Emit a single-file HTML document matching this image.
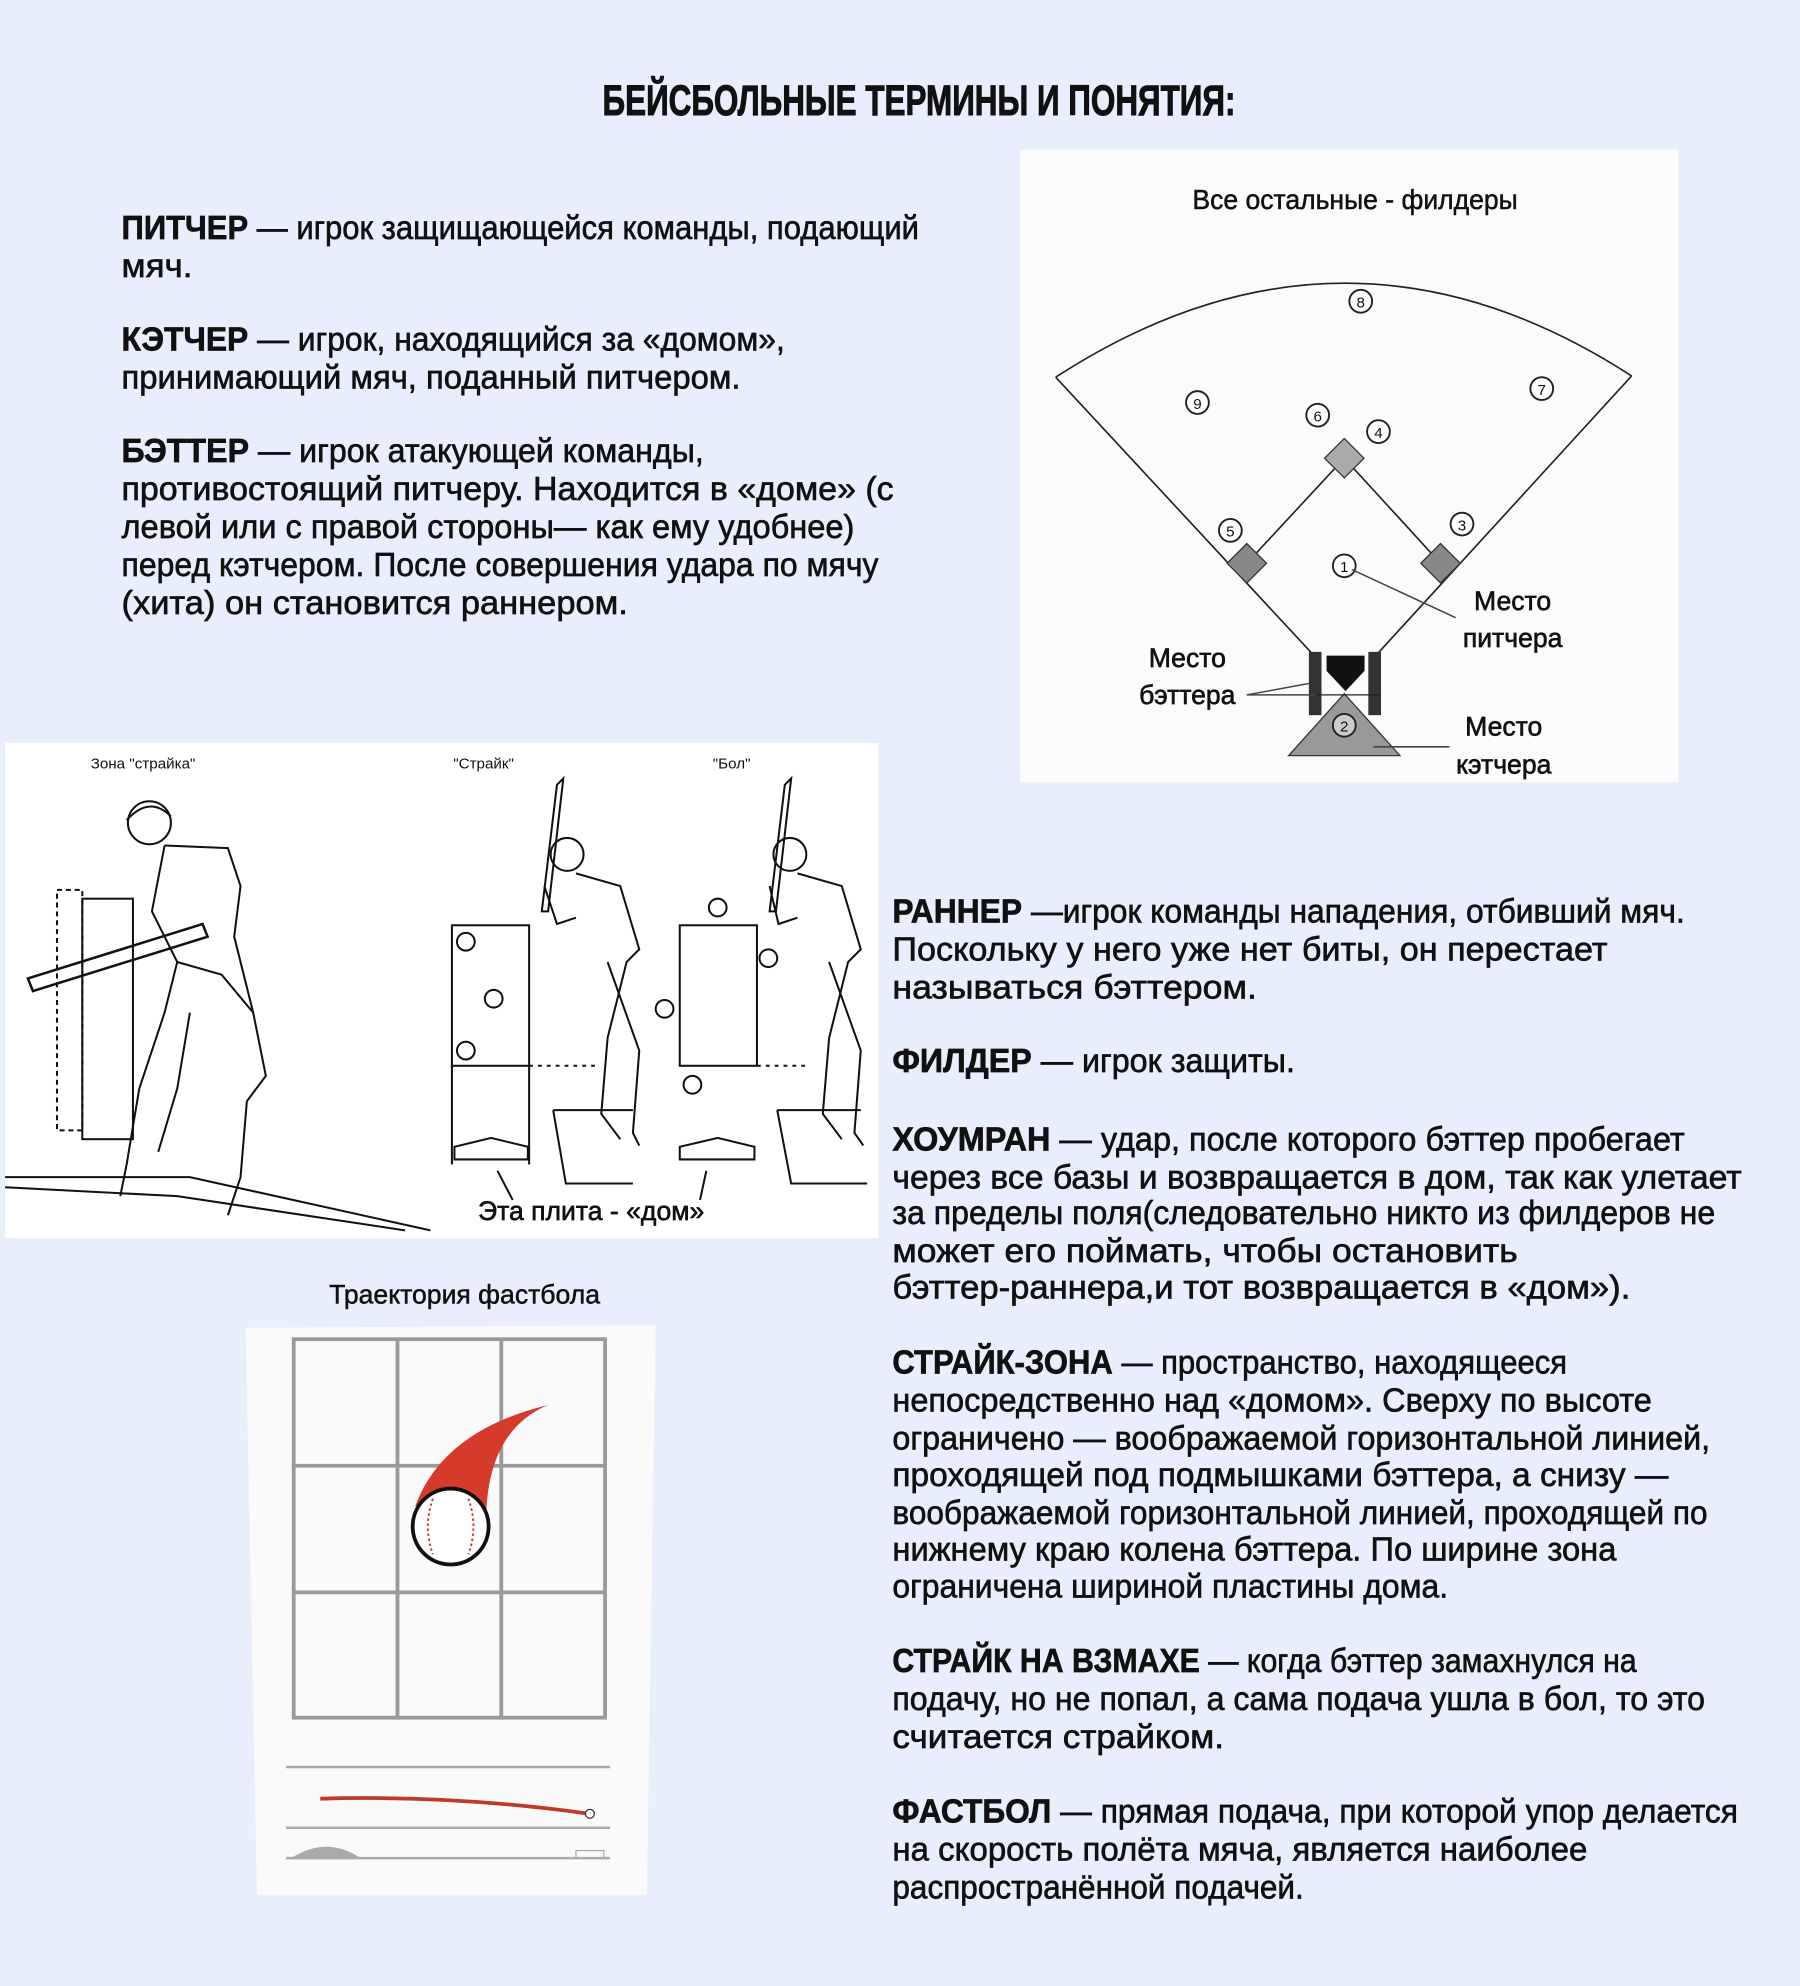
<!DOCTYPE html>
<html><head><meta charset="utf-8"><style>
html,body{margin:0;padding:0;background:#e8eefb;}
svg{display:block}
text{font-family:"Liberation Sans","DejaVu Sans",sans-serif;fill:#111;}
.t text{stroke:#111;stroke-width:0.5;}
.t{font-size:26px;}
.b{font-weight:bold;}
</style></head><body>
<svg width="1800" height="1986" viewBox="0 0 1422 1569" xmlns="http://www.w3.org/2000/svg">
<rect width="1422" height="1569" fill="#e8eefb"/>
<text x="476" y="91" font-size="34" font-weight="bold" textLength="500" lengthAdjust="spacingAndGlyphs" stroke="#111" stroke-width="0.8">БЕЙСБОЛЬНЫЕ ТЕРМИНЫ И ПОНЯТИЯ:</text>

<g class="t">
<text x="96" y="189" textLength="630" lengthAdjust="spacingAndGlyphs"><tspan class="b">ПИТЧЕР</tspan> — игрок защищающейся команды, подающий</text>
<text x="96" y="219" textLength="56" lengthAdjust="spacingAndGlyphs">мяч.</text>
<text x="96" y="277" textLength="524" lengthAdjust="spacingAndGlyphs"><tspan class="b">КЭТЧЕР</tspan> — игрок, находящийся за «домом»,</text>
<text x="96" y="307" textLength="489" lengthAdjust="spacingAndGlyphs">принимающий мяч, поданный питчером.</text>
<text x="96" y="365" textLength="460" lengthAdjust="spacingAndGlyphs"><tspan class="b">БЭТТЕР</tspan> — игрок атакующей команды,</text>
<text x="96" y="395" textLength="610" lengthAdjust="spacingAndGlyphs">противостоящий питчеру. Находится в «доме» (с</text>
<text x="96" y="425" textLength="579" lengthAdjust="spacingAndGlyphs">левой или с правой стороны— как ему удобнее)</text>
<text x="96" y="455" textLength="598" lengthAdjust="spacingAndGlyphs">перед кэтчером. После совершения удара по мячу</text>
<text x="96" y="485" textLength="400" lengthAdjust="spacingAndGlyphs">(хита) он становится раннером.</text>

<text x="705" y="729" textLength="626" lengthAdjust="spacingAndGlyphs"><tspan class="b">РАННЕР</tspan> —игрок команды нападения, отбивший мяч.</text>
<text x="705" y="759" textLength="565" lengthAdjust="spacingAndGlyphs">Поскольку у него уже нет биты, он перестает</text>
<text x="705" y="789" textLength="288" lengthAdjust="spacingAndGlyphs">называться бэттером.</text>
<text x="705" y="847" textLength="318" lengthAdjust="spacingAndGlyphs"><tspan class="b">ФИЛДЕР</tspan> — игрок защиты.</text>
<text x="705" y="909" textLength="626" lengthAdjust="spacingAndGlyphs"><tspan class="b">ХОУМРАН</tspan> — удар, после которого бэттер пробегает</text>
<text x="705" y="939" textLength="671" lengthAdjust="spacingAndGlyphs">через все базы и возвращается в дом, так как улетает</text>
<text x="705" y="967" textLength="650" lengthAdjust="spacingAndGlyphs">за пределы поля(следовательно никто из филдеров не</text>
<text x="705" y="997" textLength="494" lengthAdjust="spacingAndGlyphs">может его поймать, чтобы остановить</text>
<text x="705" y="1026" textLength="583" lengthAdjust="spacingAndGlyphs">бэттер-раннера,и тот возвращается в «дом»).</text>
<text x="705" y="1085" textLength="533" lengthAdjust="spacingAndGlyphs"><tspan class="b">СТРАЙК-ЗОНА</tspan> — пространство, находящееся</text>
<text x="705" y="1115" textLength="600" lengthAdjust="spacingAndGlyphs">непосредственно над «домом». Сверху по высоте</text>
<text x="705" y="1145" textLength="646" lengthAdjust="spacingAndGlyphs">ограничено — воображаемой горизонтальной линией,</text>
<text x="705" y="1174" textLength="613" lengthAdjust="spacingAndGlyphs">проходящей под подмышками бэттера, а снизу —</text>
<text x="705" y="1204" textLength="644" lengthAdjust="spacingAndGlyphs">воображаемой горизонтальной линией, проходящей по</text>
<text x="705" y="1233" textLength="572" lengthAdjust="spacingAndGlyphs">нижнему краю колена бэттера. По ширине зона</text>
<text x="705" y="1262" textLength="439" lengthAdjust="spacingAndGlyphs">ограничена шириной пластины дома.</text>
<text x="705" y="1321" textLength="588" lengthAdjust="spacingAndGlyphs"><tspan class="b">СТРАЙК НА ВЗМАХЕ</tspan> — когда бэттер замахнулся на</text>
<text x="705" y="1351" textLength="642" lengthAdjust="spacingAndGlyphs">подачу, но не попал, а сама подача ушла в бол, то это</text>
<text x="705" y="1381" textLength="262" lengthAdjust="spacingAndGlyphs">считается страйком.</text>
<text x="705" y="1440" textLength="668" lengthAdjust="spacingAndGlyphs"><tspan class="b">ФАСТБОЛ</tspan> — прямая подача, при которой упор делается</text>
<text x="705" y="1470" textLength="549" lengthAdjust="spacingAndGlyphs">на скорость полёта мяча, является наиболее</text>
<text x="705" y="1500" textLength="325" lengthAdjust="spacingAndGlyphs">распространённой подачей.</text>
</g>

<!-- Field diagram -->
<rect x="806" y="118" width="520" height="500" fill="#fbfbfb"/>
<text x="942" y="165" font-size="22" textLength="257" lengthAdjust="spacingAndGlyphs" stroke="#111" stroke-width="0.4">Все остальные - филдеры</text>
<g fill="none" stroke="#222" stroke-width="1.3">
<path d="M834,298 Q1062,150 1289,297"/>
<line x1="834" y1="298" x2="1040" y2="520"/>
<line x1="1289" y1="297" x2="1085" y2="520"/>
<polyline points="985,445 1062,362 1138,445"/>
</g>
<g fill="#aaa" stroke="#333" stroke-width="1">
<rect x="1051" y="351" width="22" height="22" transform="rotate(45 1062 362)"/>
<rect x="974" y="434" width="22" height="22" transform="rotate(45 985 445)" fill="#888"/>
<rect x="1127" y="434" width="22" height="22" transform="rotate(45 1138 445)" fill="#888"/>
</g>
<rect x="1034" y="515" width="10" height="50" fill="#333"/>
<rect x="1081" y="515" width="10" height="50" fill="#333"/>
<polygon points="1048,518 1078,518 1078,530 1063,546 1048,530" fill="#111"/>
<polygon points="1018,597 1106,597 1062,548" fill="#999" stroke="#333"/>
<line x1="1034" y1="549" x2="1091" y2="549" stroke="#222"/>
<g fill="#fff" stroke="#222" stroke-width="1.5">
<circle cx="1075" cy="238" r="9"/><circle cx="946" cy="318" r="9"/><circle cx="1218" cy="307" r="9"/>
<circle cx="1041" cy="328" r="9"/><circle cx="1089" cy="341" r="9"/><circle cx="972" cy="419" r="9"/>
<circle cx="1155" cy="414" r="9"/><circle cx="1062" cy="447" r="9"/><circle cx="1062" cy="573" r="9" fill="#ccc"/>
</g>
<g font-size="12" text-anchor="middle">
<text x="1075" y="243">8</text><text x="946" y="323">9</text><text x="1218" y="312">7</text>
<text x="1041" y="333">6</text><text x="1089" y="346">4</text><text x="972" y="424">5</text>
<text x="1155" y="419">3</text><text x="1062" y="452">1</text><text x="1062" y="578">2</text>
</g>
<g stroke="#444" stroke-width="1.2" fill="none">
<line x1="1068" y1="450" x2="1150" y2="488"/>
<line x1="985" y1="549" x2="1034" y2="540"/>
<line x1="985" y1="549" x2="1040" y2="549"/>
<line x1="1085" y1="590" x2="1145" y2="590"/>
</g>
<g font-size="21" text-anchor="middle" stroke="#111" stroke-width="0.5">
<text x="1195" y="482">Место</text><text x="1195" y="511">питчера</text>
<text x="938" y="527">Место</text><text x="938" y="556">бэттера</text>
<text x="1188" y="581">Место</text><text x="1188" y="611">кэтчера</text>
</g>

<!-- Photo panel -->
<rect x="4" y="587" width="690" height="391" fill="#fff"/>
<g font-size="12" text-anchor="middle">
<text x="113" y="607">Зона "страйка"</text><text x="382" y="607">"Страйк"</text><text x="578" y="607">"Бол"</text>
</g>
<g fill="none" stroke="#111" stroke-width="1.6">
<rect x="45" y="703" width="20" height="190" stroke-dasharray="4 3"/>
<rect x="65" y="710" width="40" height="190"/>
<path d="M22,773 L160,730 L164,740 L26,783 Z" stroke-width="2"/>
<circle cx="118" cy="650" r="17"/>
<path d="M100,648 Q118,628 135,645"/>
<path d="M130,668 L180,670 L190,700 L185,740 L200,800 L210,850 L195,870 L190,930 L180,960"/>
<path d="M130,668 L120,720 L140,760 L130,800 L110,860 L100,920 L95,945"/>
<path d="M140,760 L175,770 L200,800"/>
<path d="M150,800 L140,860 L125,910"/>
<path d="M4,930 L150,930 L340,972"/>
<path d="M4,938 L140,945 L320,972"/>
<rect x="357" y="731" width="61" height="111"/>
<line x1="357" y1="842" x2="357" y2="920"/><line x1="418" y1="842" x2="418" y2="920"/>
<line x1="418" y1="842" x2="470" y2="842" stroke-dasharray="3 4"/>
<circle cx="368" cy="744" r="7"/><circle cx="390" cy="789" r="7"/><circle cx="368" cy="830" r="7"/>
<path d="M359,916 L359,906 L388,899 L417,906 L417,916 Z"/>
<rect x="537" y="731" width="61" height="111"/>
<line x1="598" y1="842" x2="640" y2="842" stroke-dasharray="3 4"/>
<circle cx="567" cy="717" r="7"/><circle cx="525" cy="797" r="7"/><circle cx="547" cy="857" r="7"/><circle cx="607" cy="757" r="7"/>
<path d="M537,916 L537,906 L567,899 L596,906 L596,916 Z"/>
<path d="M437,877 L500,877 M437,877 L447,935 L500,935"/>
<path d="M614,877 L680,877 M614,877 L625,935 L685,935"/>
<line x1="393" y1="925" x2="405" y2="948"/><line x1="558" y1="925" x2="553" y2="948"/>
<path d="M440,620 L445,615 L433,720 L428,720 Z"/>
<circle cx="448" cy="675" r="13"/>
<path d="M455,690 L490,700 L505,750 L495,760 L480,820 L475,880 L490,900 M480,760 L505,830 L500,895 L505,905 M430,700 L440,730 L455,725"/>
<path d="M620,620 L625,615 L613,720 L608,720 Z"/>
<circle cx="624" cy="675" r="13"/>
<path d="M630,690 L665,700 L680,750 L670,760 L655,820 L650,880 L665,900 M655,760 L680,830 L675,895 L682,905 M608,700 L615,730 L630,725"/>
</g>
<text x="467" y="964" font-size="21" text-anchor="middle" stroke="#111" stroke-width="0.5">Эта плита - «дом»</text>

<!-- Fastball -->
<text x="367" y="1030" font-size="21" text-anchor="middle" stroke="#111" stroke-width="0.4">Траектория фастбола</text>
<polygon points="194,1049 518,1047 511,1497 203,1497" fill="#fafafa"/>
<g stroke="#9a9a9a" stroke-width="3" fill="none">
<rect x="232" y="1058" width="246" height="299"/>
<line x1="314" y1="1058" x2="314" y2="1357"/><line x1="396" y1="1058" x2="396" y2="1357"/>
<line x1="232" y1="1158" x2="478" y2="1158"/><line x1="232" y1="1258" x2="478" y2="1258"/>
</g>
<path d="M328,1190 Q350,1130 433,1110 Q385,1130 384,1200 Z" fill="#d63a2a"/>
<circle cx="356" cy="1206" r="30" fill="#fff" stroke="#111" stroke-width="3"/>
<path d="M342,1184 Q334,1206 342,1228 M370,1184 Q378,1206 370,1228" stroke="#d63a2a" stroke-width="1.5" fill="none" stroke-dasharray="2 2"/>
<g stroke="#aaa" stroke-width="2">
<line x1="226" y1="1396" x2="482" y2="1396"/><line x1="226" y1="1444" x2="482" y2="1444"/><line x1="226" y1="1468" x2="482" y2="1468"/>
</g>
<path d="M253,1421 Q360,1418 466,1433" stroke="#c0392b" stroke-width="3" fill="none"/>
<circle cx="466" cy="1433" r="3.5" fill="#fff" stroke="#333"/>
<path d="M230,1468 Q258,1450 285,1468 Z" fill="#aaa"/>
<rect x="455" y="1462" width="22" height="6" fill="none" stroke="#aaa"/>
</svg>
</body></html>
